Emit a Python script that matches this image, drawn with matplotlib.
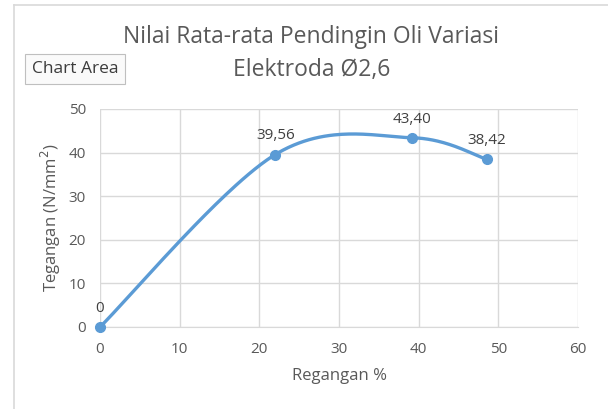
import matplotlib.pyplot as plt
import numpy as np
from matplotlib.lines import Line2D

# Data: strain (%) vs stress (N/mm2)
regangan = [0, 22, 39.2, 48.6]
tegangan = [0, 39.56, 43.40, 38.42]
labels = ['0', '39,56', '43,40', '38,42']

plt.rcParams['font.family'] = ['Open Sans', 'DejaVu Sans']

W, H = 608, 409
fig = plt.figure(figsize=(W / 100, H / 100), dpi=100)
ax = fig.add_axes([100 / W, 1 - 327 / H, 478 / W, 218 / H])

gray = '#595959'
blue = '#5B9BD5'
grid = '#D9D9D9'

ax.set_xlim(0, 60)
ax.set_ylim(0, 50)
ax.set_xticks(range(0, 61, 10))
ax.set_yticks(range(0, 51, 10))
ax.grid(True, color=grid, linewidth=1)
ax.set_axisbelow(True)
for s in ['top', 'right', 'left']:
    ax.spines[s].set_visible(False)
ax.spines['bottom'].set_color(grid)
ax.tick_params(length=0, colors=gray, labelsize=11)
ax.tick_params(axis='x', pad=11)
ax.tick_params(axis='y', pad=10)

# Excel-style smoothed line (Bezier through points), computed in pixel space
sx, sy = 478 / 60, 218 / 50
px = np.array(regangan) * sx
py = np.array(tegangan) * sy
n = len(px)
curve_x, curve_y = [], []
t = np.linspace(0, 1, 60)
for i in range(n - 1):
    p0 = np.array([px[max(i - 1, 0)], py[max(i - 1, 0)]])
    p1 = np.array([px[i], py[i]])
    p2 = np.array([px[i + 1], py[i + 1]])
    p3 = np.array([px[min(i + 2, n - 1)], py[min(i + 2, n - 1)]])
    c1 = p1 + (p2 - p0) / 6
    c2 = p2 - (p3 - p1) / 6
    b = ((1 - t) ** 3)[:, None] * p1 + (3 * (1 - t) ** 2 * t)[:, None] * c1 \
        + (3 * (1 - t) * t ** 2)[:, None] * c2 + (t ** 3)[:, None] * p2
    curve_x.extend(b[:, 0] / sx)
    curve_y.extend(b[:, 1] / sy)

ax.plot(curve_x, curve_y, color=blue, linewidth=2.4, clip_on=False, zorder=3)
ax.plot(regangan, tegangan, 'o', color=blue, markersize=7, clip_on=False, zorder=4)

for x, y, lab in zip(regangan, tegangan, labels):
    ax.annotate(lab, (x, y), xytext=(0, 8), textcoords='offset points',
                ha='center', va='bottom', color='#404040', fontsize=11)

ax.set_xlabel('Regangan %', color=gray, fontsize=12, labelpad=8)
ax.set_ylabel('Tegangan (N/mm$^2$)', color=gray, fontsize=12, labelpad=4)

fig.text(0.512, 1 - 37 / H, 'Nilai Rata-rata Pendingin Oli Variasi', ha='center', va='center',
         color=gray, fontsize=16.5)
fig.text(0.512, 1 - 70 / H, 'Elektroda Ø2,6', ha='center', va='center',
         color=gray, fontsize=16.5)

# "Chart Area" tooltip
fig.text(75 / W, 1 - 69 / H, 'Chart Area', ha='center', va='center', color='#3C3C3C', fontsize=12.5,
         bbox=dict(boxstyle='square,pad=0.4', facecolor='#FAFAFA', edgecolor='#BFBFBF', linewidth=0.8))

# chart border
fig.add_artist(Line2D([13.5 / W, 13.5 / W], [0, 1 - 4.5 / H], transform=fig.transFigure, color='#D9D9D9', linewidth=1.2))
fig.add_artist(Line2D([13.5 / W, 1], [1 - 4.5 / H, 1 - 4.5 / H], transform=fig.transFigure, color='#D9D9D9', linewidth=1.2))

fig.savefig('out.png', dpi=100)
